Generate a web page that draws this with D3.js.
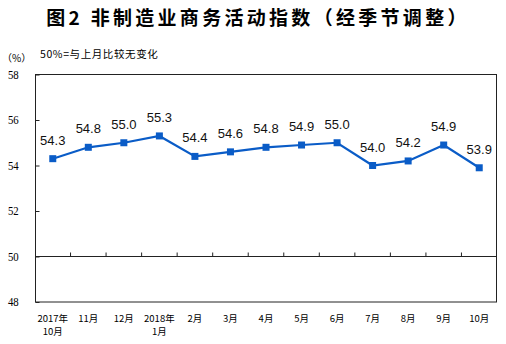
<!DOCTYPE html>
<html><head><meta charset="utf-8">
<script src="https://cdn.jsdelivr.net/npm/d3@7"></script>
<style>body{margin:0;background:#fff}svg{display:block}</style>
</head><body>
<svg id="c" width="506" height="344"></svg>
<script>
const categories = ["2017年\n10月","11月","12月","2018年\n1月","2月","3月","4月","5月","6月","7月","8月","9月","10月"];
const values = [54.3,54.8,55.0,55.3,54.4,54.6,54.8,54.9,55.0,54.0,54.2,54.9,53.9];
const yTicks = [48,50,52,54,56,58];
const title = "图2  非制造业商务活动指数（经季节调整）";
const unitLabel = "（%）";
const note = "50%=与上月比较无变化";

const svg = d3.select("#c");
const L=35.5, R=496.5, T=74.5, B=302;
const x = d3.scaleBand().domain(categories).range([35, 497]);
const y = d3.scaleLinear().domain([48,58]).range([B, T]);

svg.append("text").attr("x",258).attr("y",25).attr("text-anchor","middle")
  .attr("font-family","'Noto Sans CJK SC'").attr("font-weight","bold").attr("font-size",19)
  .attr("letter-spacing",3.3).attr("fill","#000").text(title);
svg.append("text").attr("x",2).attr("y",62).attr("font-family","'Noto Sans CJK SC'").attr("font-size",10).text(unitLabel);
svg.append("text").attr("x",40).attr("y",58).attr("font-family","'Noto Sans CJK SC'").attr("font-size",10.5)
  .attr("letter-spacing",0.6).text(note);

// frame
svg.append("rect").attr("x",L).attr("y",T).attr("width",R-L).attr("height",B-T)
  .attr("fill","none").attr("stroke","#222").attr("stroke-width",1);

// y axis
const ya = svg.append("g").attr("transform",`translate(${L},0)`)
  .call(d3.axisLeft(y).tickValues(yTicks).tickSize(-4).tickPadding(12).tickFormat(d3.format("d")));
ya.select(".domain").remove();
ya.selectAll("line").attr("stroke","#222");
ya.selectAll("text").attr("font-family","'Liberation Serif'").attr("font-size",12).attr("fill","#000")
  .attr("transform","scale(0.9,1)").attr("dx",-2);
ya.selectAll(".tick text").each(function(){ const t=d3.select(this); t.attr("x", -15/0.9); });

// 50 line
svg.append("line").attr("x1",L).attr("x2",R).attr("y1",y(50)).attr("y2",y(50)).attr("stroke","#222");
// category ticks on 50 line (between bands)
const step = x.step();
svg.append("g").selectAll("line").data(d3.range(1,categories.length)).join("line")
  .attr("x1",d=>35+d*step).attr("x2",d=>35+d*step)
  .attr("y1",y(50)).attr("y2",y(50)-4).attr("stroke","#222");

// x labels
const xl = svg.append("g").selectAll("text").data(categories).join("text")
  .attr("x",d=>x(d)+x.bandwidth()/2).attr("y",322).attr("text-anchor","middle")
  .attr("font-family","'Noto Sans CJK SC'").attr("font-size",9.5).attr("fill","#000");
xl.each(function(d){
  const parts=d.split("\n"); const t=d3.select(this);
  parts.forEach((p,i)=>t.append("tspan").attr("x",x(d)+x.bandwidth()/2).attr("dy",i?13:0).text(p));
});

// line
const cx = d=>x(d)+x.bandwidth()/2;
const line = d3.line().x((d,i)=>cx(categories[i])).y(d=>y(d));
svg.append("path").datum(values).attr("d",line).attr("fill","none").attr("stroke","#0a5cc7").attr("stroke-width",2.2);
svg.append("g").selectAll("rect").data(values).join("rect")
  .attr("x",(d,i)=>cx(categories[i])-3.5).attr("y",d=>y(d)-3.5).attr("width",7).attr("height",7).attr("fill","#0a5cc7");
svg.append("g").selectAll("text").data(values).join("text")
  .attr("x",(d,i)=>cx(categories[i])).attr("y",d=>y(d)-14).attr("text-anchor","middle")
  .attr("font-family","'Liberation Sans'").attr("font-size",13).attr("fill","#111")
  .text(d=>d.toFixed(1));
</script>
</body></html>
